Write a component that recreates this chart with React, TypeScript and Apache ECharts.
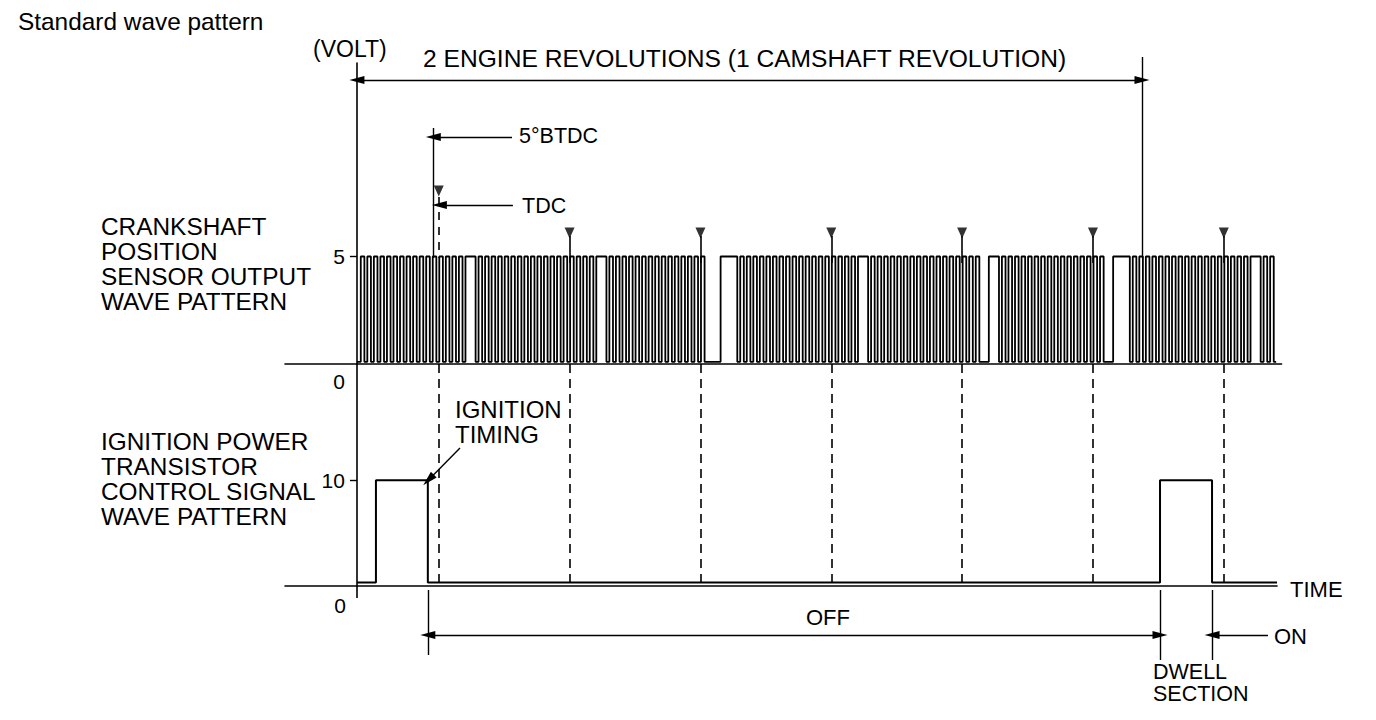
import React, { useEffect, useRef } from "react";
import * as echarts from "echarts";

// ---------- data (crank angle in degrees) ----------
const X_MIN = -66;
const X_MAX = 848;
const X_MAX_LOWER = 843.8;
const REV2_DEG = 720; // 2 engine revolutions
const TDC_DEG = [75, 195, 315, 435, 555, 675, 795];
const BTDC5_DEG = 70;

// crank sensor teeth, one character per tooth: T = tooth, M = tooth merged with next, _ = missing tooth
const CRANK_TEETH = [
  "TTTTTTTTTTTTTTTTMTTT",
  "TTTTTTTTTTTTTTTTMTTT",
  "TTTTTTTTTTTTT__MMTTT",
  "TTTTTTTTTTTTTTTTMTTT",
  "TTTTTTTTTTTTTTT_MTTT",
  "TTTTTTTTTTTTTT_MMTTT",
  "TTTTTTTTTTTTTTTTMTTT",
];
const TOOTH_FIRST_RISE = 3.5;
const TOOTH_PITCH = 6;
const TOOTH_HIGH = 3.3;
const CRANK_END = 843;
const CRANK_HIGH_V = 5;
const CRANK_LOW_V = 0.1;

// ignition power transistor control signal edges (rise, fall, rise, fall)
const IGN_EDGES = [17.4, 65, 736.5, 784.2];
const IGN_END = 843.8;
const IGN_HIGH_V = 10;
const IGN_LOW_V = 0.33;

const UPPER_TICKS = [5];
const LOWER_TICKS = [10];
const ZERO_LABEL = "0";

// ---------- layout ----------
const FONT = "Liberation Sans, Arial, Helvetica, sans-serif";
const W = 1376;
const H = 720;
const GRID_LEFT = 285;
const PX_PER_DEG = 1.09037;
const RIGHT_UPPER = W - GRID_LEFT - (X_MAX - X_MIN) * PX_PER_DEG;
const RIGHT_LOWER = W - GRID_LEFT - (X_MAX_LOWER - X_MIN) * PX_PER_DEG;

function crankPoints(): number[][] {
  const teeth = CRANK_TEETH.join("");
  const pts: number[][] = [[0, CRANK_LOW_V]];
  let high = false;
  for (let k = 0; k < teeth.length; k++) {
    const c = teeth[k];
    if (c === "_") continue;
    const rise = TOOTH_FIRST_RISE + TOOTH_PITCH * k;
    if (!high) {
      pts.push([rise, CRANK_LOW_V], [rise, CRANK_HIGH_V]);
      high = true;
    }
    if (c === "M") continue;
    const fall = rise + TOOTH_HIGH;
    pts.push([fall, CRANK_HIGH_V], [fall, CRANK_LOW_V]);
    high = false;
  }
  pts.push([CRANK_END, CRANK_LOW_V]);
  return pts;
}

function ignitionPoints(): number[][] {
  const pts: number[][] = [[0, IGN_LOW_V]];
  let high = false;
  for (const e of IGN_EDGES) {
    const a = high ? IGN_HIGH_V : IGN_LOW_V;
    const b = high ? IGN_LOW_V : IGN_HIGH_V;
    pts.push([e, a], [e, b]);
    high = !high;
  }
  pts.push([IGN_END, IGN_LOW_V]);
  return pts;
}

const AH = [8, 15];
function seg(x1: number, y1: number, x2: number, y2: number, o: any = {}) {
  return [
    {
      coord: [x1, y1],
      symbol: o.start ? "triangle" : "none",
      symbolSize: AH,
      lineStyle: { color: "#000", width: o.width ?? 1.4, type: o.dash ?? "solid" },
    },
    { coord: [x2, y2], symbol: o.end ? "triangle" : "none", symbolSize: AH },
  ];
}

function txt(text: string, x: number, y: number, size = 24, align = "left") {
  return {
    type: "text",
    x,
    y,
    silent: true,
    style: {
      text,
      fontSize: size,
      fontFamily: FONT,
      fill: "#000",
      align,
      verticalAlign: "middle",
    },
  };
}

export default function App() {
  const ref = useRef<HTMLDivElement>(null);
  useEffect(() => {
    if (!ref.current) return;
    const chart = echarts.init(ref.current, null, { renderer: "svg" });

    const axisLineStyle = { color: "#000", width: 1.6 };
    const lines: any[] = [];
    // 2 engine revolutions
    lines.push(seg(0, 80, REV2_DEG, 80, { start: true, end: true }));
    lines.push(seg(REV2_DEG, 57, REV2_DEG, 258));
    // y axis extension below lower baseline
    lines.push(seg(0, 586, 0, 598, { width: 1.6 }));
    // 5 deg BTDC
    lines.push(seg(BTDC5_DEG, 128, BTDC5_DEG, 258));
    lines.push(seg(142.2, 137, BTDC5_DEG, 137, { end: true }));
    // TDC
    lines.push(seg(143, 205, TDC_DEG[0] + 0.6, 205, { end: true }));
    lines.push(seg(TDC_DEG[0], 197, TDC_DEG[0], 258, { dash: [8, 7], width: 1.6 }));
    TDC_DEG.forEach((d, i) => {
      if (i > 0) lines.push(seg(d, 236, d, 263, { width: 1.6 }));
      lines.push(seg(d, 364, d, 584, { dash: [9, 6], width: 1.6 }));
    });
    // ignition timing arrow
    lines.push(seg(94.5, 448, IGN_EDGES[1] + 0.6, 480, { end: true }));
    // OFF / dwell / ON
    lines.push(seg(IGN_EDGES[1], 590, IGN_EDGES[1], 655));
    lines.push(seg(IGN_EDGES[2], 590, IGN_EDGES[2], 660));
    lines.push(seg(IGN_EDGES[3], 590, IGN_EDGES[3], 660));
    lines.push(seg(IGN_EDGES[1], 635, IGN_EDGES[2], 635, { start: true, end: true }));
    lines.push(seg(835.5, 635, IGN_EDGES[3], 635, { end: true }));

    const texts: any[] = [
      txt("Standard wave pattern", 18, 21, 24.4),
      txt("(VOLT)", 313, 49, 23),
      txt("2 ENGINE REVOLUTIONS (1 CAMSHAFT REVOLUTION)", 423, 58, 24.6),
      txt("5°BTDC", 519, 136, 21.5),
      txt("TDC", 522, 206, 21.5),
      txt("CRANKSHAFT", 101, 226, 24.4),
      txt("POSITION", 101, 251, 24.4),
      txt("SENSOR OUTPUT", 101, 276, 24.4),
      txt("WAVE PATTERN", 101, 301, 24.4),
      txt(ZERO_LABEL, 339, 381, 21, "center"),
      txt("IGNITION", 455, 409.5, 24),
      txt("TIMING", 455, 434, 24),
      txt("IGNITION POWER", 101, 441, 24.4),
      txt("TRANSISTOR", 101, 466, 24.4),
      txt("CONTROL SIGNAL", 101, 491, 24.4),
      txt("WAVE PATTERN", 101, 516, 24.4),
      txt(ZERO_LABEL, 340, 605, 21, "center"),
      txt("TIME", 1290, 589, 22),
      txt("OFF", 828, 617, 22, "center"),
      txt("ON", 1274, 636, 22),
      txt("DWELL", 1153, 672, 21.5),
      txt("SECTION", 1153, 694, 21.5),
    ];

    const option: any = {
      animation: false,
      backgroundColor: "#fff",
      grid: [
        { left: GRID_LEFT, right: RIGHT_UPPER, top: 63, bottom: H - 364 },
        { left: GRID_LEFT, right: RIGHT_LOWER, top: 364, bottom: H - 586 },
        { left: GRID_LEFT, right: RIGHT_UPPER, top: 0, bottom: 0 },
      ],
      xAxis: [
        {
          type: "value", gridIndex: 0, min: X_MIN, max: X_MAX,
          axisLine: { lineStyle: axisLineStyle }, axisTick: { show: false },
          axisLabel: { show: false }, splitLine: { show: false },
        },
        {
          type: "value", gridIndex: 1, min: X_MIN, max: X_MAX_LOWER,
          axisLine: { lineStyle: axisLineStyle }, axisTick: { show: false },
          axisLabel: { show: false }, splitLine: { show: false },
        },
        {
          type: "value", gridIndex: 2, min: X_MIN, max: X_MAX, show: false,
        },
      ],
      yAxis: [
        {
          type: "value", gridIndex: 0, min: 0, max: 14,
          axisLine: { show: true, onZero: true, lineStyle: axisLineStyle },
          axisTick: { show: true, customValues: UPPER_TICKS, length: 7, lineStyle: { color: "#000", width: 1.4 } },
          axisLabel: { show: false },
          splitLine: { show: false },
        },
        {
          type: "value", gridIndex: 1, min: 0, max: 21,
          axisLine: { show: true, onZero: true, lineStyle: axisLineStyle },
          axisTick: { show: true, customValues: LOWER_TICKS, length: 7, lineStyle: { color: "#000", width: 1.4 } },
          axisLabel: { show: false },
          splitLine: { show: false },
        },
        {
          type: "value", gridIndex: 2, min: 0, max: H, inverse: true, show: false,
        },
      ],
      series: [
        {
          name: "Crankshaft position sensor",
          type: "line", xAxisIndex: 0, yAxisIndex: 0,
          data: crankPoints(), showSymbol: false, symbol: "none", silent: true,
          lineStyle: { color: "#000", width: 1.8 },
        },
        {
          name: "Ignition power transistor",
          type: "line", xAxisIndex: 1, yAxisIndex: 1,
          data: ignitionPoints(), showSymbol: false, symbol: "none", silent: true,
          lineStyle: { color: "#000", width: 2 },
        },
        {
          name: "annotations",
          type: "scatter", xAxisIndex: 2, yAxisIndex: 2, silent: true,
          data: TDC_DEG.map((d, i) => [d, i === 0 ? 191 : 233]),
          symbol: "triangle", symbolRotate: 180, symbolSize: [10, 11],
          itemStyle: { color: "#000" },
          markLine: {
            silent: true, animation: false,
            symbol: ["none", "none"],
            label: { show: false },
            emphasis: { disabled: true },
            lineStyle: { color: "#000", width: 1.4, type: "solid" },
            data: lines,
          },
        },
      ],
      graphic: texts,
    };
    chart.setOption(option);

    // tick labels of the two voltage axes, placed through the axes' own scales
    const axisX = chart.convertToPixel({ xAxisIndex: 0 }, 0) as number;
    const tickTexts: any[] = [];
    UPPER_TICKS.forEach((v) => {
      const y = chart.convertToPixel({ yAxisIndex: 0 }, v) as number;
      tickTexts.push(txt(String(v), axisX - 12, y, 21, "right"));
    });
    LOWER_TICKS.forEach((v) => {
      const y = chart.convertToPixel({ yAxisIndex: 1 }, v) as number;
      tickTexts.push(txt(String(v), axisX - 12, y, 21, "right"));
    });
    chart.setOption({ graphic: [...texts, ...tickTexts] });

    return () => chart.dispose();
  }, []);
  return (
    <div
      ref={ref}
      style={{ position: "absolute", left: 0, top: 0, width: W, height: H, background: "#fff" }}
    />
  );
}
